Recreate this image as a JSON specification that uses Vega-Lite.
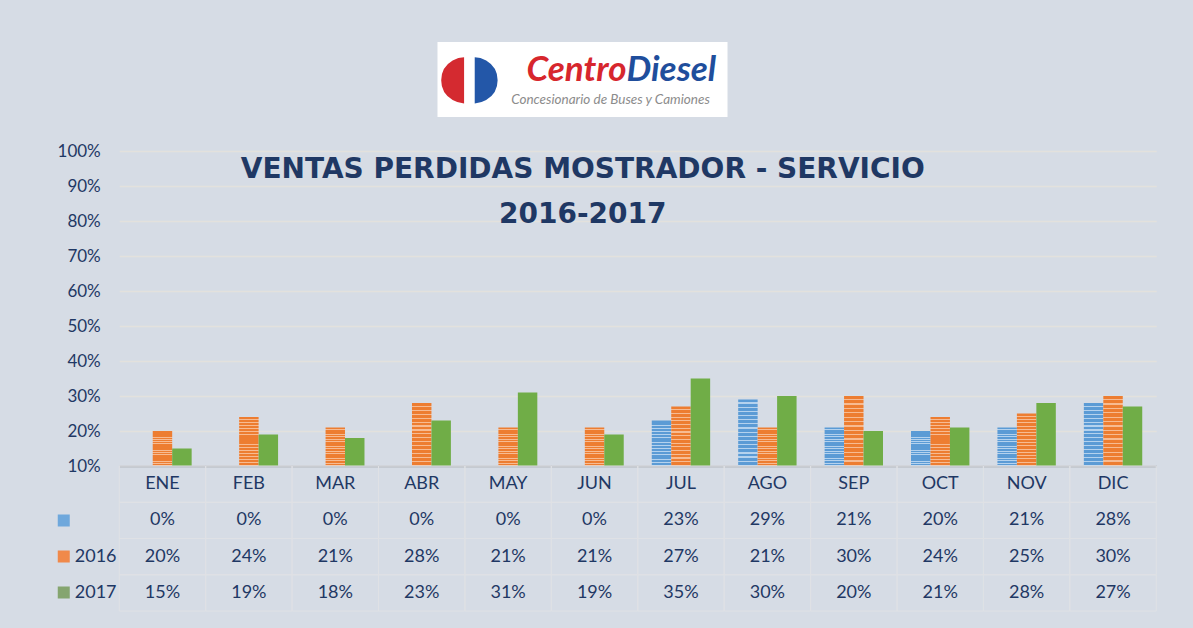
{
  "$schema": "https://vega.github.io/schema/vega-lite/v6.json",
  "background": "#d6dce5",
  "padding": {"left": 51, "top": 42, "right": 36, "bottom": 17},
  "config": {"font": "Lato", "view": {"stroke": null}},
  "datasets": {
    "ventas": [
      {"mes": "ENE", "serie": "Serie1", "valor": 0}, {"mes": "FEB", "serie": "Serie1", "valor": 0}, {"mes": "MAR", "serie": "Serie1", "valor": 0},
      {"mes": "ABR", "serie": "Serie1", "valor": 0}, {"mes": "MAY", "serie": "Serie1", "valor": 0}, {"mes": "JUN", "serie": "Serie1", "valor": 0},
      {"mes": "JUL", "serie": "Serie1", "valor": 0.23}, {"mes": "AGO", "serie": "Serie1", "valor": 0.29}, {"mes": "SEP", "serie": "Serie1", "valor": 0.21},
      {"mes": "OCT", "serie": "Serie1", "valor": 0.20}, {"mes": "NOV", "serie": "Serie1", "valor": 0.21}, {"mes": "DIC", "serie": "Serie1", "valor": 0.28},
      {"mes": "ENE", "serie": "2016", "valor": 0.20}, {"mes": "FEB", "serie": "2016", "valor": 0.24}, {"mes": "MAR", "serie": "2016", "valor": 0.21},
      {"mes": "ABR", "serie": "2016", "valor": 0.28}, {"mes": "MAY", "serie": "2016", "valor": 0.21}, {"mes": "JUN", "serie": "2016", "valor": 0.21},
      {"mes": "JUL", "serie": "2016", "valor": 0.27}, {"mes": "AGO", "serie": "2016", "valor": 0.21}, {"mes": "SEP", "serie": "2016", "valor": 0.30},
      {"mes": "OCT", "serie": "2016", "valor": 0.24}, {"mes": "NOV", "serie": "2016", "valor": 0.25}, {"mes": "DIC", "serie": "2016", "valor": 0.30},
      {"mes": "ENE", "serie": "2017", "valor": 0.15}, {"mes": "FEB", "serie": "2017", "valor": 0.19}, {"mes": "MAR", "serie": "2017", "valor": 0.18},
      {"mes": "ABR", "serie": "2017", "valor": 0.23}, {"mes": "MAY", "serie": "2017", "valor": 0.31}, {"mes": "JUN", "serie": "2017", "valor": 0.19},
      {"mes": "JUL", "serie": "2017", "valor": 0.35}, {"mes": "AGO", "serie": "2017", "valor": 0.30}, {"mes": "SEP", "serie": "2017", "valor": 0.20},
      {"mes": "OCT", "serie": "2017", "valor": 0.21}, {"mes": "NOV", "serie": "2017", "valor": 0.28}, {"mes": "DIC", "serie": "2017", "valor": 0.27}
    ],
    "meses": [
      {"mes": "ENE"}, {"mes": "FEB"}, {"mes": "MAR"}, {"mes": "ABR"}, {"mes": "MAY"}, {"mes": "JUN"},
      {"mes": "JUL"}, {"mes": "AGO"}, {"mes": "SEP"}, {"mes": "OCT"}, {"mes": "NOV"}, {"mes": "DIC"}
    ],
    "logo": [
      {"marca": "Centro", "resto": "Diesel", "lema": "Concesionario de Buses y Camiones", "izq": "◖", "der": "◗"}
    ]
  },
  "center": true,
  "bounds": "full",
  "spacing": 25,
  "vconcat": [
    {
      "width": 401,
      "height": 75,
      "data": {"name": "logo"},
      "encoding": {
        "x": {"field": "marca", "type": "nominal", "scale": {"type": "band", "range": [0, 290], "paddingInner": 0, "paddingOuter": 0}, "axis": null}
      },
      "layer": [
        {"mark": {"type": "rect", "color": "white"}},
        {"mark": {"type": "text", "align": "right", "baseline": "middle", "dx": -113, "dy": -2, "fontSize": 60, "font": "DejaVu Sans", "color": "#d42a30"}, "encoding": {"text": {"field": "izq"}}},
        {"mark": {"type": "text", "align": "left", "baseline": "middle", "dx": -113, "dy": -2, "fontSize": 60, "font": "DejaVu Sans", "color": "#2357a8"}, "encoding": {"text": {"field": "der"}}},
        {"mark": {"type": "text", "align": "right", "baseline": "alphabetic", "dx": 44, "dy": 1, "fontSize": 35, "fontWeight": "bold", "fontStyle": "italic", "color": "#d7262d"}, "encoding": {"text": {"field": "marca"}}},
        {"mark": {"type": "text", "align": "left", "baseline": "alphabetic", "dx": 44, "dy": 1, "fontSize": 35, "fontWeight": "bold", "fontStyle": "italic", "color": "#1f4e9c"}, "encoding": {"text": {"field": "resto"}}},
        {"mark": {"type": "text", "align": "center", "baseline": "middle", "dx": 28, "dy": 20, "fontSize": 13.5, "fontStyle": "italic", "color": "#8c8c8c"}, "encoding": {"text": {"field": "lema"}}}
      ]
    },
    {
      "width": 1037,
      "height": 460,
      "title": {"text": ["VENTAS PERDIDAS MOSTRADOR - SERVICIO", "2016-2017"], "fontSize": 28, "fontWeight": "bold", "color": "#1f3864", "font": "DejaVu Sans", "anchor": "middle", "dx": -55, "offset": -87, "lineHeight": 45},
      "resolve": {"scale": {"y": "independent"}, "axis": {"y": "independent"}},
      "layer": [
        {
          "data": {"name": "ventas"},
          "encoding": {
            "x": {"field": "mes", "type": "nominal", "scale": {"type": "band", "domain": ["ENE", "FEB", "MAR", "ABR", "MAY", "JUN", "JUL", "AGO", "SEP", "OCT", "NOV", "DIC"], "paddingInner": 0, "paddingOuter": 0}, "axis": null},
            "xOffset": {"field": "serie", "type": "nominal", "scale": {"domain": ["Serie1", "2016", "2017"], "paddingInner": 0, "paddingOuter": 0.72}},
            "y": {"field": "valor", "type": "quantitative", "scale": {"domain": [0.1, 1], "range": [315, 0], "zero": false, "nice": false},
                  "axis": {"orient": "left", "title": null, "values": [0.1, 0.2, 0.3, 0.4, 0.5, 0.6, 0.7, 0.8, 0.9, 1], "format": ".0%", "labelFontSize": 17, "labelColor": "#1f3864", "labelPadding": 19, "ticks": false, "domain": false, "grid": true,
                           "gridColor": {"condition": {"test": "datum.value <= 0.1", "value": "#b3b7bd"}, "value": "#e3e1dd"},
                           "gridWidth": {"condition": {"test": "datum.value <= 0.1", "value": 2}, "value": 1.3}}},
            "y2": {"datum": 0.1}
          },
          "layer": [
            {
              "transform": [{"filter": "datum.serie === 'Serie1' && datum.valor >= 0.1"}],
              "mark": {"type": "bar", "color": {"gradient": "linear", "x1": 0, "y1": 0, "x2": 0, "y2": 1, "stops": [
                {"offset": 0, "color": "#5b9bd5"}, {"offset": 0.044, "color": "#5b9bd5"}, {"offset": 0.044, "color": "#b4d2ee"}, {"offset": 0.0625, "color": "#b4d2ee"},
                {"offset": 0.0625, "color": "#5b9bd5"}, {"offset": 0.1065, "color": "#5b9bd5"}, {"offset": 0.1065, "color": "#b4d2ee"}, {"offset": 0.125, "color": "#b4d2ee"},
                {"offset": 0.125, "color": "#5b9bd5"}, {"offset": 0.169, "color": "#5b9bd5"}, {"offset": 0.169, "color": "#b4d2ee"}, {"offset": 0.1875, "color": "#b4d2ee"},
                {"offset": 0.1875, "color": "#5b9bd5"}, {"offset": 0.2315, "color": "#5b9bd5"}, {"offset": 0.2315, "color": "#b4d2ee"}, {"offset": 0.25, "color": "#b4d2ee"},
                {"offset": 0.25, "color": "#5b9bd5"}, {"offset": 0.294, "color": "#5b9bd5"}, {"offset": 0.294, "color": "#b4d2ee"}, {"offset": 0.3125, "color": "#b4d2ee"},
                {"offset": 0.3125, "color": "#5b9bd5"}, {"offset": 0.3565, "color": "#5b9bd5"}, {"offset": 0.3565, "color": "#b4d2ee"}, {"offset": 0.375, "color": "#b4d2ee"},
                {"offset": 0.375, "color": "#5b9bd5"}, {"offset": 0.419, "color": "#5b9bd5"}, {"offset": 0.419, "color": "#b4d2ee"}, {"offset": 0.4375, "color": "#b4d2ee"},
                {"offset": 0.4375, "color": "#5b9bd5"}, {"offset": 0.4815, "color": "#5b9bd5"}, {"offset": 0.4815, "color": "#b4d2ee"}, {"offset": 0.5, "color": "#b4d2ee"},
                {"offset": 0.5, "color": "#5b9bd5"}, {"offset": 0.544, "color": "#5b9bd5"}, {"offset": 0.544, "color": "#b4d2ee"}, {"offset": 0.5625, "color": "#b4d2ee"},
                {"offset": 0.5625, "color": "#5b9bd5"}, {"offset": 0.6065, "color": "#5b9bd5"}, {"offset": 0.6065, "color": "#b4d2ee"}, {"offset": 0.625, "color": "#b4d2ee"},
                {"offset": 0.625, "color": "#5b9bd5"}, {"offset": 0.669, "color": "#5b9bd5"}, {"offset": 0.669, "color": "#b4d2ee"}, {"offset": 0.6875, "color": "#b4d2ee"},
                {"offset": 0.6875, "color": "#5b9bd5"}, {"offset": 0.7315, "color": "#5b9bd5"}, {"offset": 0.7315, "color": "#b4d2ee"}, {"offset": 0.75, "color": "#b4d2ee"},
                {"offset": 0.75, "color": "#5b9bd5"}, {"offset": 0.794, "color": "#5b9bd5"}, {"offset": 0.794, "color": "#b4d2ee"}, {"offset": 0.8125, "color": "#b4d2ee"},
                {"offset": 0.8125, "color": "#5b9bd5"}, {"offset": 0.8565, "color": "#5b9bd5"}, {"offset": 0.8565, "color": "#b4d2ee"}, {"offset": 0.875, "color": "#b4d2ee"},
                {"offset": 0.875, "color": "#5b9bd5"}, {"offset": 0.919, "color": "#5b9bd5"}, {"offset": 0.919, "color": "#b4d2ee"}, {"offset": 0.9375, "color": "#b4d2ee"},
                {"offset": 0.9375, "color": "#5b9bd5"}, {"offset": 0.9815, "color": "#5b9bd5"}, {"offset": 0.9815, "color": "#b4d2ee"}, {"offset": 1, "color": "#b4d2ee"}
              ]}}
            },
            {
              "transform": [{"filter": "datum.serie === '2016'"}],
              "mark": {"type": "bar", "color": {"gradient": "linear", "x1": 0, "y1": 0, "x2": 0, "y2": 1, "stops": [
                {"offset": 0, "color": "#ed7d31"}, {"offset": 0.044, "color": "#ed7d31"}, {"offset": 0.044, "color": "#f7bb92"}, {"offset": 0.0625, "color": "#f7bb92"},
                {"offset": 0.0625, "color": "#ed7d31"}, {"offset": 0.1065, "color": "#ed7d31"}, {"offset": 0.1065, "color": "#f7bb92"}, {"offset": 0.125, "color": "#f7bb92"},
                {"offset": 0.125, "color": "#ed7d31"}, {"offset": 0.169, "color": "#ed7d31"}, {"offset": 0.169, "color": "#f7bb92"}, {"offset": 0.1875, "color": "#f7bb92"},
                {"offset": 0.1875, "color": "#ed7d31"}, {"offset": 0.2315, "color": "#ed7d31"}, {"offset": 0.2315, "color": "#f7bb92"}, {"offset": 0.25, "color": "#f7bb92"},
                {"offset": 0.25, "color": "#ed7d31"}, {"offset": 0.294, "color": "#ed7d31"}, {"offset": 0.294, "color": "#f7bb92"}, {"offset": 0.3125, "color": "#f7bb92"},
                {"offset": 0.3125, "color": "#ed7d31"}, {"offset": 0.3565, "color": "#ed7d31"}, {"offset": 0.3565, "color": "#f7bb92"}, {"offset": 0.375, "color": "#f7bb92"},
                {"offset": 0.375, "color": "#ed7d31"}, {"offset": 0.419, "color": "#ed7d31"}, {"offset": 0.419, "color": "#f7bb92"}, {"offset": 0.4375, "color": "#f7bb92"},
                {"offset": 0.4375, "color": "#ed7d31"}, {"offset": 0.4815, "color": "#ed7d31"}, {"offset": 0.4815, "color": "#f7bb92"}, {"offset": 0.5, "color": "#f7bb92"},
                {"offset": 0.5, "color": "#ed7d31"}, {"offset": 0.544, "color": "#ed7d31"}, {"offset": 0.544, "color": "#f7bb92"}, {"offset": 0.5625, "color": "#f7bb92"},
                {"offset": 0.5625, "color": "#ed7d31"}, {"offset": 0.6065, "color": "#ed7d31"}, {"offset": 0.6065, "color": "#f7bb92"}, {"offset": 0.625, "color": "#f7bb92"},
                {"offset": 0.625, "color": "#ed7d31"}, {"offset": 0.669, "color": "#ed7d31"}, {"offset": 0.669, "color": "#f7bb92"}, {"offset": 0.6875, "color": "#f7bb92"},
                {"offset": 0.6875, "color": "#ed7d31"}, {"offset": 0.7315, "color": "#ed7d31"}, {"offset": 0.7315, "color": "#f7bb92"}, {"offset": 0.75, "color": "#f7bb92"},
                {"offset": 0.75, "color": "#ed7d31"}, {"offset": 0.794, "color": "#ed7d31"}, {"offset": 0.794, "color": "#f7bb92"}, {"offset": 0.8125, "color": "#f7bb92"},
                {"offset": 0.8125, "color": "#ed7d31"}, {"offset": 0.8565, "color": "#ed7d31"}, {"offset": 0.8565, "color": "#f7bb92"}, {"offset": 0.875, "color": "#f7bb92"},
                {"offset": 0.875, "color": "#ed7d31"}, {"offset": 0.919, "color": "#ed7d31"}, {"offset": 0.919, "color": "#f7bb92"}, {"offset": 0.9375, "color": "#f7bb92"},
                {"offset": 0.9375, "color": "#ed7d31"}, {"offset": 0.9815, "color": "#ed7d31"}, {"offset": 0.9815, "color": "#f7bb92"}, {"offset": 1, "color": "#f7bb92"}
              ]}}
            },
            {
              "transform": [{"filter": "datum.serie === '2017'"}],
              "mark": {"type": "bar", "color": "#70ad47"}
            }
          ]
        },
        {
          "encoding": {
            "x": {"field": "mes", "type": "nominal"},
            "y": {"field": "serie", "type": "nominal", "scale": {"type": "band", "domain": ["hdr", "Serie1", "2016", "2017"], "range": [315, 460], "paddingInner": 0, "paddingOuter": 0},
                  "axis": {"orient": "left", "title": null, "domain": false, "offset": 50, "tickSize": 12, "tickWidth": 12, "tickCap": "butt",
                           "tickColor": {"condition": [{"test": "datum.value === 'Serie1'", "value": "#6fa8dc"}, {"test": "datum.value === '2016'", "value": "#f0894a"}, {"test": "datum.value === '2017'", "value": "#85a56f"}], "value": "transparent"},
                           "labelAlign": "left", "labelPadding": -17, "labelExpr": "datum.value === '2016' || datum.value === '2017' ? datum.value : ''",
                           "labelFontSize": 18, "labelColor": "#1f3864", "labelFont": "Lato"}}
          },
          "layer": [
            {
              "data": {"name": "ventas"},
              "mark": {"type": "rect", "fill": "transparent", "stroke": "#dfe1e5", "strokeWidth": 1}
            },
            {
              "data": {"name": "meses"},
              "mark": {"type": "rect", "fill": "transparent", "stroke": "#dfe1e5", "strokeWidth": 1},
              "encoding": {"y": {"datum": "hdr", "type": "nominal"}}
            },
            {
              "data": {"name": "ventas"},
              "mark": {"type": "text", "fontSize": 18, "color": "#1f3864", "baseline": "middle"},
              "encoding": {"text": {"field": "valor", "type": "quantitative", "format": ".0%"}}
            },
            {
              "data": {"name": "meses"},
              "mark": {"type": "text", "fontSize": 18, "color": "#1f3864", "baseline": "middle"},
              "encoding": {"y": {"datum": "hdr", "type": "nominal"}, "text": {"field": "mes", "type": "nominal"}}
            }
          ]
        }
      ]
    }
  ]
}
